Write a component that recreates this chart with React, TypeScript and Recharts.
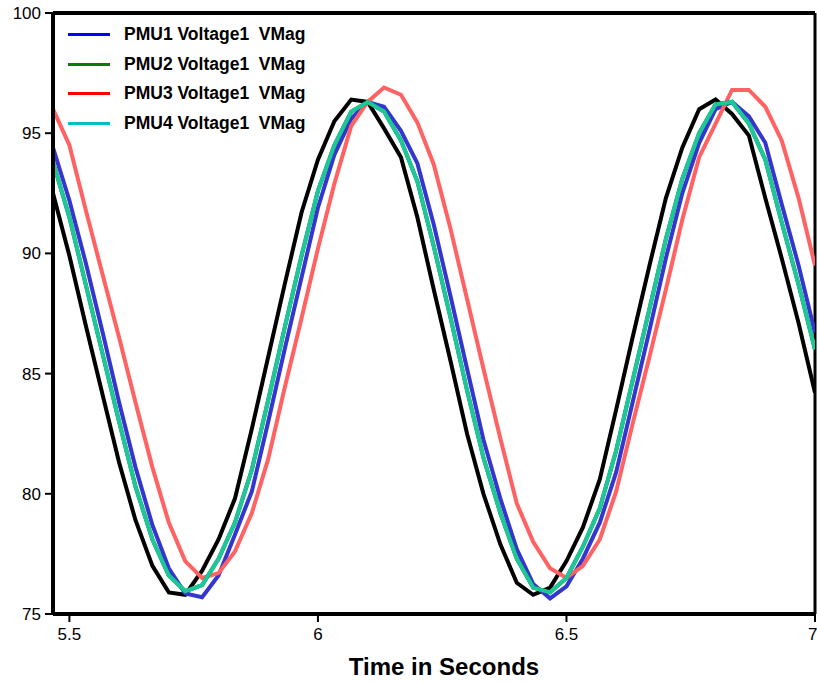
import React from "react";
import { LineChart, Line, XAxis, YAxis, ReferenceLine } from "recharts";

const times = [
  5.467, 5.5, 5.533, 5.567, 5.6, 5.633, 5.667, 5.7, 5.733, 5.767, 5.8, 5.833,
  5.867, 5.9, 5.933, 5.967, 6.0, 6.033, 6.067, 6.1, 6.133, 6.167, 6.2, 6.233,
  6.267, 6.3, 6.333, 6.367, 6.4, 6.433, 6.467, 6.5, 6.533, 6.567, 6.6, 6.633,
  6.667, 6.7, 6.733, 6.767, 6.8, 6.833, 6.867, 6.9, 6.933, 6.967, 7.0,
];

const refVMag = [
  92.5, 89.9, 87.0, 84.1, 81.3, 78.9, 77.0, 75.9, 75.8, 76.8, 78.1, 79.8,
  82.7, 85.7, 88.7, 91.7, 93.9, 95.5, 96.4, 96.3, 95.2, 94.0, 91.5, 88.5,
  85.5, 82.5, 80.0, 77.9, 76.3, 75.8, 76.1, 77.2, 78.6, 80.6, 83.5, 86.5,
  89.5, 92.3, 94.4, 96.0, 96.4, 95.8, 94.9, 92.3, 89.8, 87.1, 84.2,
];

const pmu1 = [
  94.4, 92.2, 89.6, 86.7, 83.8, 81.1, 78.7, 76.9, 75.85, 75.7, 76.6, 78.3,
  80.1, 83.0, 86.0, 89.0, 91.9, 94.1, 95.6, 96.3, 96.1, 95.1, 93.75, 91.2,
  88.2, 85.2, 82.25, 79.8, 77.7, 76.25, 75.65, 76.15, 77.3, 78.8, 80.9, 83.8,
  86.8, 89.8, 92.5, 94.6, 96.0, 96.3, 95.7, 94.6, 92.05, 89.5, 86.7,
];

const pmu2 = [
  93.8, 91.5, 88.7, 85.8, 83.0, 80.3, 78.1, 76.6, 75.95, 76.2, 77.3, 78.8,
  81.0, 83.9, 86.9, 89.9, 92.6, 94.5, 95.9, 96.3, 95.9, 94.7, 93.0, 90.3,
  87.3, 84.3, 81.5, 79.2, 77.3, 76.1, 75.9, 76.5, 77.8, 79.4, 81.8, 84.7,
  87.7, 90.6, 93.1, 95.0, 96.2, 96.3, 95.4, 93.9, 91.3, 88.7, 86.0,
];

const pmu3 = [
  96.0, 94.5, 91.8, 89.1, 86.5, 83.8, 81.1, 78.8, 77.2, 76.5, 76.7, 77.6,
  79.2, 81.45, 84.4, 87.3, 90.2, 92.9, 95.3, 96.3, 96.9, 96.6, 95.45, 93.7,
  91.0, 88.1, 85.2, 82.3, 79.6, 78.0, 76.9, 76.5, 77.0, 78.1, 80.1, 82.9,
  85.7, 88.5, 91.4, 94.0, 95.4, 96.8, 96.8, 96.1, 94.7, 92.3, 89.5,
];

const pmu4 = [
  93.8, 91.5, 88.7, 85.8, 83.0, 80.3, 78.1, 76.6, 75.95, 76.2, 77.3, 78.8,
  81.0, 83.9, 86.9, 89.9, 92.6, 94.5, 95.9, 96.3, 95.9, 94.7, 93.0, 90.3,
  87.3, 84.3, 81.5, 79.2, 77.3, 76.1, 75.9, 76.5, 77.8, 79.4, 81.8, 84.7,
  87.7, 90.6, 93.1, 95.0, 96.2, 96.3, 95.4, 93.9, 91.3, 88.7, 86.0,
];

const xTicks = [5.5, 6, 6.5, 7];
const yTicks = [75, 80, 85, 90, 95, 100];

const legendLabels = [
  "PMU1 Voltage1  VMag",
  "PMU2 Voltage1  VMag",
  "PMU3 Voltage1  VMag",
  "PMU4 Voltage1  VMag",
];
const legendColors = ["#0000ff", "#008000", "#ff0000", "#00c0c0"];

const data = times.map((t, i) => ({
  t,
  ref: refVMag[i],
  pmu1: pmu1[i],
  pmu2: pmu2[i],
  pmu3: pmu3[i],
  pmu4: pmu4[i],
}));

const FONT = "'Liberation Sans', Arial, Helvetica, sans-serif";

export default function App() {
  return (
    <div style={{ position: "absolute", left: 0, top: 0, width: 817, height: 682, background: "#fff", fontFamily: FONT, overflow: "hidden" }}>
      <LineChart width={817} height={682} data={data} margin={{ top: 13, right: 2, bottom: 0, left: 0 }}>
        <XAxis
          dataKey="t"
          type="number"
          domain={[5.467, 7.0]}
          ticks={xTicks}
          allowDataOverflow
          height={68}
          axisLine={{ stroke: "#000", strokeWidth: 4 }}
          tickLine={{ stroke: "#000", strokeWidth: 2 }}
          tickSize={8}
          tickMargin={6}
          tick={{ fill: "#000", fontSize: 17, fontFamily: FONT }}
        />
        <YAxis
          type="number"
          domain={[75, 100]}
          ticks={yTicks}
          allowDataOverflow
          width={53}
          axisLine={{ stroke: "#000", strokeWidth: 4 }}
          tickLine={{ stroke: "#000", strokeWidth: 2 }}
          tickSize={8}
          tickMargin={4}
          tick={{ fill: "#000", fontSize: 17, fontFamily: FONT }}
        />
        <ReferenceLine y={100} stroke="#000" strokeWidth={4} ifOverflow="visible" />
        <ReferenceLine x={7} stroke="#000" strokeWidth={3} ifOverflow="visible" />
        <Line dataKey="ref" type="linear" stroke="#000000" strokeWidth={4} dot={false} isAnimationActive={false} />
        <Line dataKey="pmu1" type="linear" stroke="#3535cf" strokeWidth={4} dot={false} isAnimationActive={false} />
        <Line dataKey="pmu3" type="linear" stroke="#ff6262" strokeWidth={4} dot={false} isAnimationActive={false} />
        <Line dataKey="pmu2" type="linear" stroke="#008000" strokeWidth={4} dot={false} isAnimationActive={false} />
        <Line dataKey="pmu4" type="linear" stroke="#1dc79b" strokeWidth={4} dot={false} isAnimationActive={false} />
      </LineChart>
      <div style={{ position: "absolute", left: 68, top: 20 }}>
        {legendLabels.map((label, i) => (
          <div key={label} style={{ display: "flex", alignItems: "center", height: 29.5 }}>
            <div style={{ width: 42, height: 3, background: legendColors[i], marginRight: 14 }} />
            <div style={{ fontSize: 17.5, fontWeight: "bold", whiteSpace: "pre", color: "#000" }}>{label}</div>
          </div>
        ))}
      </div>
      <div
        style={{
          position: "absolute",
          left: 444,
          top: 653,
          transform: "translateX(-50%)",
          fontSize: 24,
          fontWeight: "bold",
          whiteSpace: "nowrap",
          color: "#000",
        }}
      >
        Time in Seconds
      </div>
    </div>
  );
}
